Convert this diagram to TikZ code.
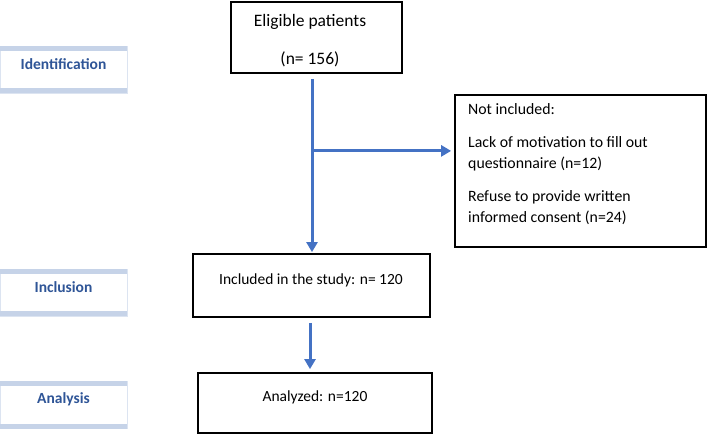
\documentclass[tikz,border=0pt]{standalone}
\usepackage{fontspec}
\setmainfont{Carlito}
\usetikzlibrary{arrows.meta,calc}
\definecolor{arrblue}{HTML}{4472C4}
\definecolor{lblblue}{HTML}{2F5597}
\definecolor{bandblue}{HTML}{C6D3E8}
\definecolor{edgeblue}{HTML}{DCE4F1}
\begin{document}
\begin{tikzpicture}[x=1pt,y=-1pt,
  flowbox/.style={draw=black,line width=1.8pt,fill=white,inner sep=0pt},
  sidebox/.style={draw=edgeblue,line width=0.6pt,fill=white,inner sep=0pt,minimum width=127pt,minimum height=47pt},
  sidetext/.style={font=\fontsize{15.5}{18}\selectfont\bfseries,text=lblblue,inner sep=0pt},
  maintext/.style={font=\fontsize{15.5}{19}\selectfont,inner sep=0pt,align=center},
  arr/.style={draw=arrblue,line width=3pt,-{Triangle[length=10pt,width=11pt]}}
]
\useasboundingbox (0,0) rectangle (709,438);
% side labels
\node[sidebox] (sid) at (63.5,69.5) {};
\node[sidebox] (sin) at (63.5,292.5) {};
\node[sidebox] (san) at (63.5,405) {};
\foreach \s in {sid,sin,san}{
  \fill[bandblue] (\s.north west) rectangle ([yshift=-5pt]\s.north east);
  \fill[bandblue] ([yshift=5pt]\s.south west) rectangle (\s.south east);
}
\node[sidetext] (tid) at ([yshift=5.5pt]sid.center) {Identification};
\node[sidetext] (tin) at ([yshift=5.5pt]sin.center) {Inclusion};
\node[sidetext] (tan) at ([yshift=6pt]san.center) {Analysis};
% flow boxes
\node[flowbox,minimum width=171pt,minimum height=71pt] (elig) at (316.5,37.5) {};
\node[font=\fontsize{17.5}{21}\selectfont,inner sep=0pt,align=center] (teli) at (310,41) {Eligible patients\\[17pt](n= 156)};
\node[flowbox,minimum width=251pt,minimum height=152pt] (notinc) at (580.5,171) {};
\node[font=\fontsize{15.8}{21}\selectfont,inner sep=0pt,align=left,anchor=north west] (tnot) at (468,103)
  {Not included:\\[12pt]Lack of motivation to fill out\\questionnaire (n=12)\\[12pt]Refuse to provide written\\informed consent (n=24)};
\node[flowbox,minimum width=237pt,minimum height=63pt] (incl) at (311.5,285.5) {};
\node[maintext] (tinc) at (311,280) {Included in the study: n= 120};
\node[flowbox,minimum width=234pt,minimum height=60pt] (anl) at (315,403) {};
\node[maintext] (tanl) at (315,397) {Analyzed: n=120};
% connectors
\coordinate (top) at ($(elig.south)+(-4.5,5)$);
\coordinate (br) at ($(top)+(0,72)$);
\draw[arr,shorten >=1pt] (top) -- (top |- incl.north);
\draw[arr,shorten >=3pt] (br) -- (br -| notinc.west);
\draw[arr,shorten >=3pt] ($(incl.south)+(-1.5,5)$) -- ($(anl.north)+(-5,0)$);
\end{tikzpicture}
\end{document}
